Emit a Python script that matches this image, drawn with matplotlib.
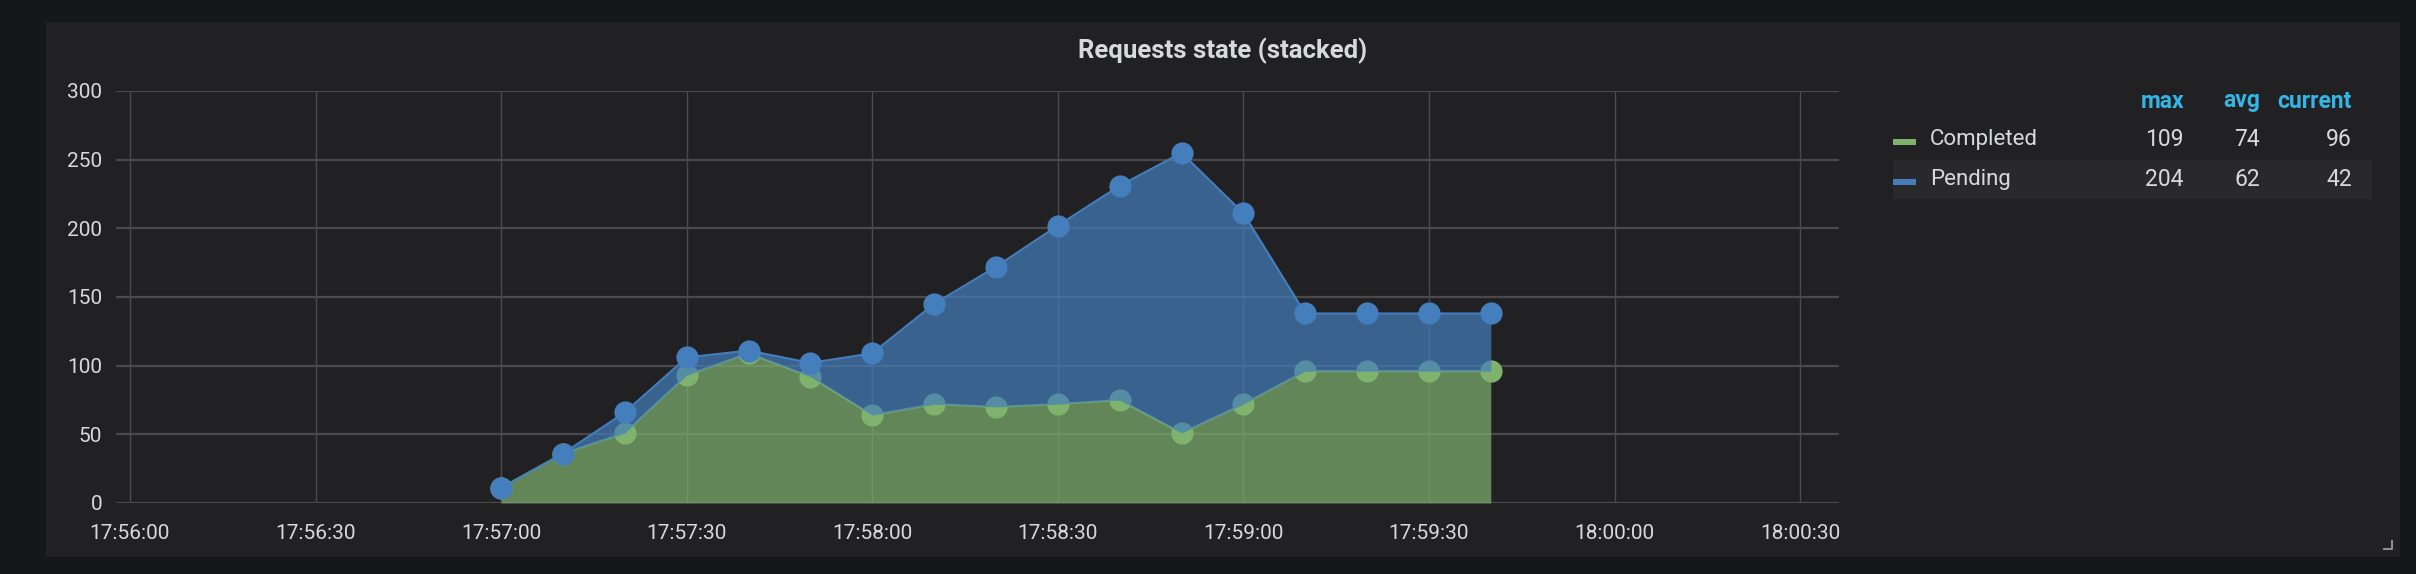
import numpy as np
import pandas as pd
import matplotlib
matplotlib.use("Agg")
import matplotlib.pyplot as plt
import matplotlib.dates as mdates
from matplotlib.patches import Rectangle

# data (10 s steps)
times = ["17:57:00", "17:57:10", "17:57:20", "17:57:30", "17:57:40", "17:57:50",
         "17:58:00", "17:58:10", "17:58:20", "17:58:30", "17:58:40", "17:58:50",
         "17:59:00", "17:59:10", "17:59:20", "17:59:30", "17:59:40"]
completed = [11, 36, 51, 93, 109, 92, 64, 72, 70, 72, 75, 51, 72, 96, 96, 96, 96]
pending = [0, 0, 15, 13, 2, 10, 45, 73, 102, 130, 156, 204, 139, 42, 42, 42, 42]

tick_labels = ["17:56:00", "17:56:30", "17:57:00", "17:57:30", "17:58:00",
               "17:58:30", "17:59:00", "17:59:30", "18:00:00", "18:00:30"]
y_ticks = [0, 50, 100, 150, 200, 250, 300]

series_names = ["Completed", "Pending"]
stat_names = ["max", "avg", "current"]

green = "#7eb26d"
blue = "#447ebc"
txt = "#d8d9da"
bg_out = "#161719"
bg_panel = "#212124"
grid_c = "#4a4a4d"

plt.rcParams['font.family'] = ['Roboto', 'DejaVu Sans']

day = "2018-01-01 "
x = mdates.date2num(pd.to_datetime([day + t for t in times]))
xt = mdates.date2num(pd.to_datetime([day + t for t in tick_labels]))
c = np.array(completed, dtype=float)
p = np.array(pending, dtype=float)
total = c + p

W, H = 2416, 574
fig = plt.figure(figsize=(W / 100, H / 100), dpi=100, facecolor=bg_out)

# panel background
fig.patches.append(Rectangle((46 / W, 1 - 557 / H), (2400 - 46) / W, (557 - 22) / H,
                             transform=fig.transFigure, facecolor=bg_panel,
                             edgecolor="none", zorder=-2))

ax = fig.add_axes([116 / W, 1 - 503 / H, (1839 - 116) / W, (503 - 91) / H])
ax.set_facecolor(bg_panel)
ax.patch.set_alpha(0)

step = (xt[1] - xt[0]) / 186.0  # data units per pixel
ax.set_xlim(xt[0] - 14 * step, xt[-1] + 39 * step)
ax.set_ylim(0, 300)

ax.set_xticks(xt)
ax.set_xticklabels(tick_labels)
ax.set_yticks(y_ticks)
ax.tick_params(colors=txt, labelsize=15, length=0)
ax.tick_params(axis="x", pad=15)
ax.tick_params(axis="y", pad=10)
for s in ax.spines.values():
    s.set_visible(False)
ax.grid(axis="y", color=grid_c, lw=1.6, zorder=1)
ax.grid(axis="x", color=grid_c, lw=1.0, zorder=1)

# stacked areas
ax.fill_between(x, 0, c, color=green, alpha=0.7, lw=0, zorder=2)
ax.plot(x, c, color=green, lw=1.5, zorder=3)
ax.plot(x, c, "o", color=green, ms=16, mew=0, zorder=3)
ax.fill_between(x, c, total, color=blue, alpha=0.7, lw=0, zorder=4)
ax.plot(x, total, color=blue, lw=1.5, zorder=5)
ax.plot(x, total, "o", color=blue, ms=16, mew=0, zorder=5)

# title
fig.text(1223 / W, 1 - 51 / H, "Requests state (stacked)", color=txt, fontsize=18.5,
         fontweight="bold", ha="center", va="center")

# legend table
cols_x = [2184, 2260, 2352]
for name, cx in zip(stat_names, cols_x):
    fig.text(cx / W, 1 - 101 / H, name, color="#33b5e5", fontsize=16.5,
             fontweight="bold", ha="right", va="center")

fig.patches.append(Rectangle((1893 / W, 1 - 199 / H), (2372 - 1893) / W, 39 / H,
                             transform=fig.transFigure, facecolor="#29292c",
                             edgecolor="none", zorder=-1))

rows_y = [139, 179]
for name, vals, col, ry in zip(series_names, [c, p], [green, blue], rows_y):
    fig.patches.append(Rectangle((1893 / W, 1 - (ry + 5.5) / H), 23 / W, 5 / H,
                                 transform=fig.transFigure, facecolor=col,
                                 edgecolor="none", zorder=1))
    fig.text(1930 / W, 1 - ry / H, name, color=txt, fontsize=16, ha="left", va="center")
    stats = [int(vals.max()), int(round(vals.mean())), int(vals[-1])]
    for v, cx in zip(stats, cols_x):
        fig.text(cx / W, 1 - ry / H, str(v), color=txt, fontsize=16.5, ha="right", va="center")

# resize handle in the corner
fig.lines.append(plt.Line2D([2384 / W, 2392 / W, 2392 / W],
                            [1 - 549 / H, 1 - 549 / H, 1 - 541 / H],
                            transform=fig.transFigure, color="#8e8e8e", lw=1.5))

fig.savefig("out.png", dpi=100, facecolor=bg_out)
